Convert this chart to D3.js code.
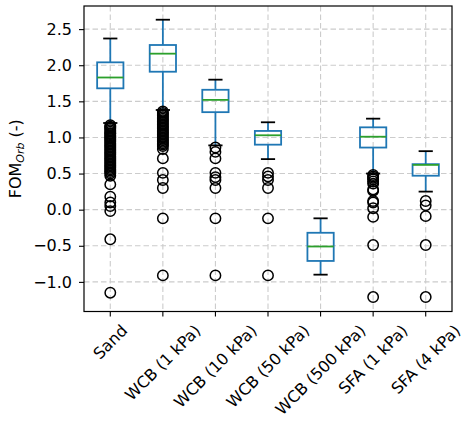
<!DOCTYPE html>
<html>
<head>
<meta charset="utf-8">
<script src="https://cdn.jsdelivr.net/npm/d3@7"></script>
<style>
  body { margin: 0; background: #fff; }
  text { font-family: "DejaVu Sans", sans-serif; fill: #000; }
</style>
</head>
<body>
<div id="chart"></div>
<script>

// categories on the x axis
var categories = ["Sand", "WCB (1 kPa)", "WCB (10 kPa)", "WCB (50 kPa)", "WCB (500 kPa)", "SFA (1 kPa)", "SFA (4 kPa)"];

// box statistics: lower whisker, q1, median, q3, upper whisker
var whisker_low  = [1.20, 1.38, 0.89, 0.70, -0.90, 0.50, 0.25];
var q1           = [1.68, 1.91, 1.35, 0.90, -0.71, 0.86, 0.47];
var medians      = [1.83, 2.16, 1.52, 1.03, -0.51, 1.01, 0.62];
var q3           = [2.04, 2.28, 1.66, 1.09, -0.32, 1.14, 0.63];
var whisker_high = [2.37, 2.63, 1.80, 1.21, -0.12, 1.26, 0.81];

// outliers per category
var fliers_sand = [1.17, 1.15, 1.14, 1.12, 1.10, 1.08, 1.06, 1.05, 1.03, 1.01, 1.00, 0.98, 0.96, 0.94, 0.92,
  0.90, 0.88, 0.86, 0.84, 0.82, 0.80, 0.78, 0.76, 0.74, 0.72, 0.70, 0.68, 0.66, 0.64, 0.62, 0.60, 0.58,
  0.56, 0.54, 0.52, 0.50, 0.47, 0.35, 0.18, 0.10, 0.05, -0.02, -0.41, -1.15];
var fliers_wcb1 = [1.36, 1.34, 1.32, 1.30, 1.28, 1.26, 1.24, 1.22, 1.20, 1.18, 1.16, 1.14, 1.12, 1.10, 1.08,
  1.06, 1.04, 1.02, 1.00, 0.98, 0.96, 0.94, 0.92, 0.90, 0.88, 0.84, 0.71, 0.51, 0.41, 0.30, -0.12, -0.91];
var fliers_wcb10 = [0.86, 0.80, 0.71, 0.51, 0.45, 0.41, 0.30, -0.12, -0.91];
var fliers_wcb50 = [0.51, 0.46, 0.41, 0.30, -0.12, -0.91];
var fliers_wcb500 = [];
var fliers_sfa1 = [0.48, 0.46, 0.44, 0.42, 0.39, 0.36, 0.28, 0.26, 0.12, 0.10, 0.02, -0.10, -0.49, -1.21];
var fliers_sfa4 = [0.12, 0.06, -0.09, -0.49, -1.21];
var fliers = [fliers_sand, fliers_wcb1, fliers_wcb10, fliers_wcb50, fliers_wcb500, fliers_sfa1, fliers_sfa4];

var y_ticks = [-1.0, -0.5, 0.0, 0.5, 1.0, 1.5, 2.0, 2.5];

var width = 471, height = 431;
var plot = {left: 84, right: 452, top: 6, bottom: 311.5};
var fs = "16px";

var svg = d3.select("#chart").append("svg")
    .attr("width", width)
    .attr("height", height);

var x = d3.scaleBand().domain(categories).range([plot.left, plot.right]).padding(0);
var y = d3.scaleLinear().domain([-1.41, 2.82]).range([plot.bottom, plot.top]);
var bw = x.bandwidth();
function cx(c) { return x(c) + bw / 2; }

var boxes = categories.map(function(c, i) {
	return {cat: c, lo: whisker_low[i], q1: q1[i], med: medians[i], q3: q3[i], hi: whisker_high[i], fliers: fliers[i]};
});

// grid
var grid = svg.append("g").attr("stroke", "#cccccc").attr("stroke-width", 1.1).attr("stroke-dasharray", "5.5,3");
grid.selectAll(".hgrid").data(y_ticks).enter().append("line")
	.attr("x1", plot.left).attr("x2", plot.right)
	.attr("y1", function(d) { return y(d); }).attr("y2", function(d) { return y(d); });
grid.selectAll(".vgrid").data(categories).enter().append("line")
	.attr("y1", plot.top).attr("y2", plot.bottom)
	.attr("x1", function(d) { return cx(d); }).attr("x2", function(d) { return cx(d); });

// axes
var yAxis = svg.append("g")
	.attr("transform", "translate(" + plot.left + ",0)")
	.call(d3.axisLeft(y).tickValues(y_ticks).tickSize(5).tickPadding(7)
		.tickFormat(function(d) { return d3.format(".1f")(d).replace("-", "\u2212"); }));
yAxis.select(".domain").remove();
yAxis.selectAll("text").style("font-size", fs);
yAxis.selectAll("line").attr("stroke-width", 1.1);

var xAxis = svg.append("g")
	.attr("transform", "translate(0," + plot.bottom + ")")
	.call(d3.axisBottom(x).tickSize(5).tickPadding(6));
xAxis.select(".domain").remove();
xAxis.selectAll("line").attr("stroke-width", 1.1);
xAxis.selectAll("text").each(function() {
	var t = d3.select(this);
	t.style("font-size", fs).attr("text-anchor", "middle").attr("dy", null)
	 .attr("dominant-baseline", "central");
	var w = this.getComputedTextLength();
	var h = 15;
	var half = (w + h) * Math.SQRT1_2 / 2;
	t.attr("y", 11 + half).attr("x", 0)
	 .attr("transform", "rotate(-45,0," + (11 + half) + ")");
});

// boxes
var g = svg.append("g");
var capw = bw * 0.27;
var lw = 1.8;
var bx = g.selectAll(".box").data(boxes).enter().append("g");

bx.append("line")
	.attr("x1", function(d) { return cx(d.cat); }).attr("x2", function(d) { return cx(d.cat); })
	.attr("y1", function(d) { return y(d.q3); }).attr("y2", function(d) { return y(d.hi); })
	.attr("stroke", "#1f77b4").attr("stroke-width", lw);
bx.append("line")
	.attr("x1", function(d) { return cx(d.cat); }).attr("x2", function(d) { return cx(d.cat); })
	.attr("y1", function(d) { return y(d.q1); }).attr("y2", function(d) { return y(d.lo); })
	.attr("stroke", "#1f77b4").attr("stroke-width", lw);
bx.selectAll(".cap").data(function(d) { return [{cat: d.cat, v: d.lo}, {cat: d.cat, v: d.hi}]; })
	.enter().append("line")
	.attr("x1", function(d) { return cx(d.cat) - capw / 2; }).attr("x2", function(d) { return cx(d.cat) + capw / 2; })
	.attr("y1", function(d) { return y(d.v); }).attr("y2", function(d) { return y(d.v); })
	.attr("stroke", "#000").attr("stroke-width", lw);
bx.append("rect")
	.attr("x", function(d) { return cx(d.cat) - bw / 4; })
	.attr("width", bw / 2)
	.attr("y", function(d) { return y(d.q3); })
	.attr("height", function(d) { return y(d.q1) - y(d.q3); })
	.attr("fill", "none").attr("stroke", "#1f77b4").attr("stroke-width", lw);
bx.append("line")
	.attr("x1", function(d) { return cx(d.cat) - bw / 4; }).attr("x2", function(d) { return cx(d.cat) + bw / 4; })
	.attr("y1", function(d) { return y(d.med); }).attr("y2", function(d) { return y(d.med); })
	.attr("stroke", "#2ca02c").attr("stroke-width", lw);
bx.selectAll(".flier").data(function(d) { return d.fliers.map(function(v) { return {cat: d.cat, v: v}; }); })
	.enter().append("circle")
	.attr("cx", function(d) { return cx(d.cat); })
	.attr("cy", function(d) { return y(d.v); })
	.attr("r", 5.2)
	.attr("fill", "none").attr("stroke", "#000").attr("stroke-width", 1.5);

// frame
svg.append("rect")
	.attr("x", plot.left).attr("y", plot.top)
	.attr("width", plot.right - plot.left).attr("height", plot.bottom - plot.top)
	.attr("fill", "none").attr("stroke", "#000").attr("stroke-width", 1.2);

// y label
var yl = svg.append("text")
	.attr("transform", "translate(21," + ((plot.top + plot.bottom) / 2) + ") rotate(-90)")
	.attr("text-anchor", "middle")
	.style("font-size", fs);
yl.append("tspan").text("FOM");
yl.append("tspan").text("Orb").style("font-style", "italic").style("font-size", "11px").attr("dy", 3);
yl.append("tspan").text(" (-)").attr("dy", -3);

</script>
</body>
</html>
